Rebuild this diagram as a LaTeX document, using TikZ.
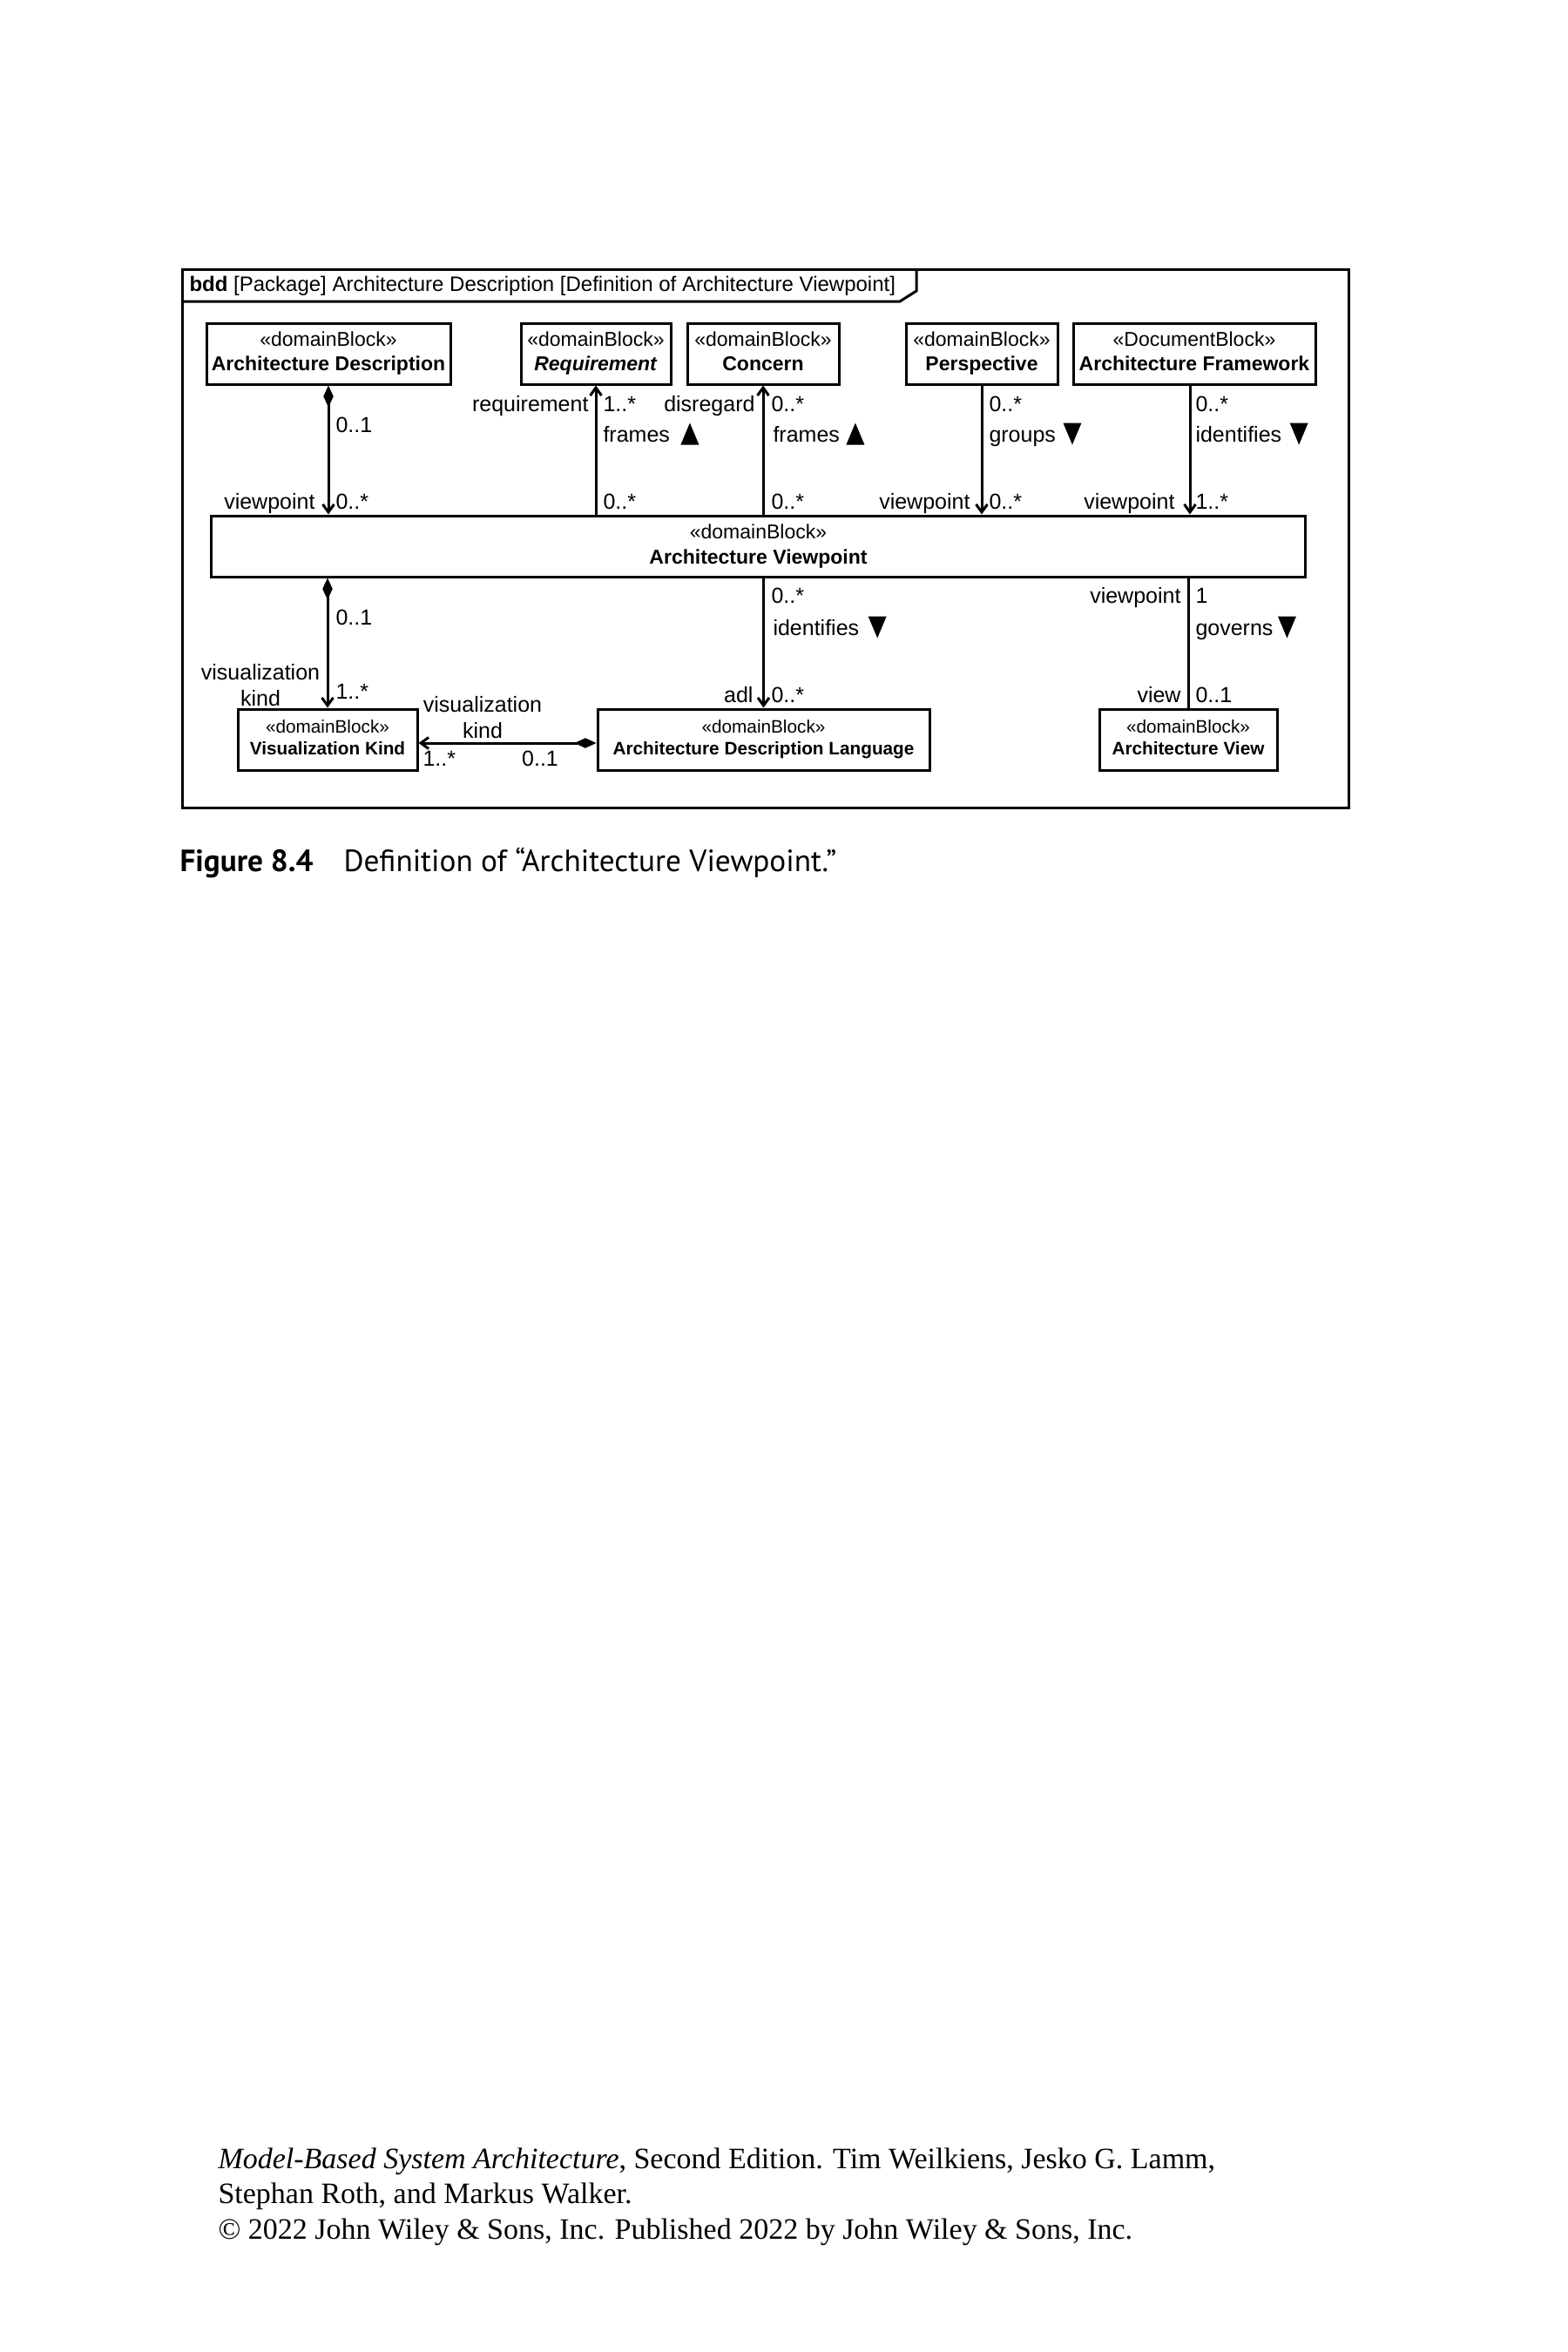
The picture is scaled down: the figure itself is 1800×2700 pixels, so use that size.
\documentclass[tikz,border=0pt]{standalone}
\usepackage{fontspec}
\setmainfont{Liberation Sans}
\newfontfamily\capfont{PT Sans}
\newfontfamily\footfont{Liberation Serif}
\usetikzlibrary{arrows.meta,calc}
\newcommand\uptri[1]{\fill (#1) ++(0,12.5) -- ++(21,0) -- ++(-10.5,-25) -- cycle;}
\newcommand\dntri[1]{\fill (#1) ++(0,-12.5) -- ++(21,0) -- ++(-10.5,25) -- cycle;}
\newcommand\blktext[2]{\vphantom{Ap}#1\\\vphantom{Ap}\textbf{#2}}
\begin{document}
\begin{tikzpicture}[x=0.4pt,y=-0.4pt,line width=1.2pt,
  blk/.style={draw,rectangle,inner sep=0pt,align=center,minimum height=28pt},
  topblk/.style={blk,font=\fontsize{9.2}{11.2}\selectfont},
  avblk/.style={blk,font=\fontsize{9.2}{11.6}\selectfont},
  botblk/.style={blk,font=\fontsize{8.3}{10}\selectfont},
  lab/.style={inner sep=0pt,font=\fontsize{10}{12}\selectfont,text height=7.2pt,text depth=0pt},
  lab2/.style={inner sep=0pt,font=\fontsize{10}{12}\selectfont,align=center},
  assoc/.style={-{Straight Barb[length=3.6pt,width=5.2pt]}},
  comp/.style={{Diamond[length=10pt,width=4.6pt]}-{Straight Barb[length=3.6pt,width=5.2pt]}}]
\useasboundingbox (0,0) rectangle (1800,2700);

% frame
\draw (209,309) rectangle (1548,927);
\draw (209,346) -- (1033,346) -- (1052,334) -- (1052,309);
\node[anchor=west,inner sep=0pt,font=\fontsize{9.6}{11}\selectfont] (hdr) at (216,328)
  {\textbf{bdd} [Package] Architecture Description [Definition of Architecture Viewpoint]};

% blocks
\node[topblk,minimum width=112pt] (ad) at (377,406) {\blktext{«domainBlock»}{Architecture Description}};
\node[topblk,minimum width=68.8pt] (req) at (684,406) {\blktext{«domainBlock»}{\itshape Requirement}};
\node[topblk,minimum width=69.6pt] (con) at (876,406) {\blktext{«domainBlock»}{Concern}};
\node[topblk,minimum width=69.6pt] (per) at (1127,406) {\blktext{«domainBlock»}{Perspective}};
\node[topblk,minimum width=111.2pt] (af) at (1371,406) {\blktext{«DocumentBlock»}{Architecture Framework}};
\node[avblk,minimum width=502pt] (av) at (870.5,627) {\blktext{«domainBlock»}{Architecture Viewpoint}};
\node[botblk,minimum width=82.4pt] (vk) at (376,849) {\blktext{«domainBlock»}{Visualization Kind}};
\node[botblk,minimum width=152.4pt] (adl) at (876.5,849) {\blktext{«domainBlock»}{Architecture Description Language}};
\node[botblk,minimum width=81.6pt] (avw) at (1364,849) {\blktext{«domainBlock»}{Architecture View}};

% connectors
\coordinate (afs) at ([xshift=-2pt]af.south);
\draw[comp] (ad.south) -- (ad.south |- av.north);
\draw[assoc] (req.south |- av.north) -- (req.south);
\draw[assoc] (con.south |- av.north) -- (con.south);
\draw[assoc] (per.south) -- (per.south |- av.north);
\draw[assoc] (afs) -- (afs |- av.north);
\draw[comp] (vk.north |- av.south) -- (vk.north);
\draw[comp] ([yshift=-1.6pt]adl.west) -- ([yshift=-1.6pt]adl.west -| vk.east);
\draw[assoc] (adl.north |- av.south) -- (adl.north);
\draw (avw.north |- av.south) -- (avw.north);

% labels top
\node[lab,anchor=west] (l1) at (384,487) {0..1};
\node[lab,anchor=east] (l2) at (363,575) {viewpoint};
\node[lab,anchor=west] (l3) at (384,575) {0..*};
\node[lab,anchor=east] (l4) at (677,463) {requirement};
\node[lab,anchor=west] (l5) at (691,463) {1..*};
\node[lab,anchor=west] (l6) at (691,498) {frames};
\uptri{$(l6.east)+(11,0)$}
\node[lab,anchor=west] (l7) at (691,575) {0..*};
\node[lab,anchor=east] (l8) at (868,463) {disregard};
\node[lab,anchor=west] (l9) at (884,463) {0..*};
\node[lab,anchor=west] (l10) at (886,498) {frames};
\uptri{$(l10.east)+(6,0)$}
\node[lab,anchor=west] (l11) at (884,575) {0..*};
\node[lab,anchor=west] (l12) at (1134,463) {0..*};
\node[lab,anchor=west] (l13) at (1134,498) {groups};
\dntri{$(l13.east)+(7,0)$}
\node[lab,anchor=east] (l14) at (1115,575) {viewpoint};
\node[lab,anchor=west] (l15) at (1134,575) {0..*};
\node[lab,anchor=west] (l16) at (1371,463) {0..*};
\node[lab,anchor=west] (l17) at (1371,498) {identifies};
\dntri{$(l17.east)+(8,0)$}
\node[lab,anchor=east] (l18) at (1350,575) {viewpoint};
\node[lab,anchor=west] (l19) at (1371,575) {1..*};

% labels bottom
\node[lab,anchor=west] (b1) at (384,708) {0..1};
\node[lab2] (b2) at (299,787) {visualization\\kind};
\node[lab,anchor=west] (b3) at (384,793) {1..*};
\node[lab2] (b4) at (554,824) {visualization\\kind};
\node[lab,anchor=west] (b5) at (484,870) {1..*};
\node[lab] (b6) at (620,870) {0..1};
\node[lab,anchor=west] (b7) at (884,683) {0..*};
\node[lab,anchor=west] (b8) at (886,720) {identifies};
\dntri{$(b8.east)+(9,0)$}
\node[lab,anchor=east] (b9) at (866,797) {adl};
\node[lab,anchor=west] (b10) at (884,797) {0..*};
\node[lab,anchor=east] (b11) at (1357,683) {viewpoint};
\node[lab,anchor=west] (b12) at (1371,683) {1};
\node[lab,anchor=west] (b13) at (1371,720) {governs};
\dntri{$(b13.east)+(4,0)$}
\node[lab,anchor=east] (b14) at (1357,797) {view};
\node[lab,anchor=west] (b15) at (1371,797) {0..1};

% caption
\node[anchor=base west,inner sep=0pt,font=\capfont\fontsize{14.1}{16}\selectfont\bfseries] (cap1) at (205,1000) {Figure 8.4};
\node[anchor=base west,inner sep=0pt,font=\capfont\fontsize{14.1}{16}\selectfont] (cap2) at (393,1000) {Definition of “Architecture Viewpoint.”};

% footer
\node[anchor=base west,inner sep=0pt,font=\footfont\fontsize{13.6}{15}\selectfont] (f1) at (249,2489) {\textit{Model-Based System Architecture}, Second Edition. Tim Weilkiens, Jesko G. Lamm,};
\node[anchor=base west,inner sep=0pt,font=\footfont\fontsize{13.6}{15}\selectfont] (f2) at (249,2529) {Stephan Roth, and Markus Walker.};
\node[anchor=base west,inner sep=0pt,font=\footfont\fontsize{13.6}{15}\selectfont] (f3) at (249,2570) {© 2022 John Wiley \& Sons, Inc. Published 2022 by John Wiley \& Sons, Inc.};
\end{tikzpicture}
\end{document}
